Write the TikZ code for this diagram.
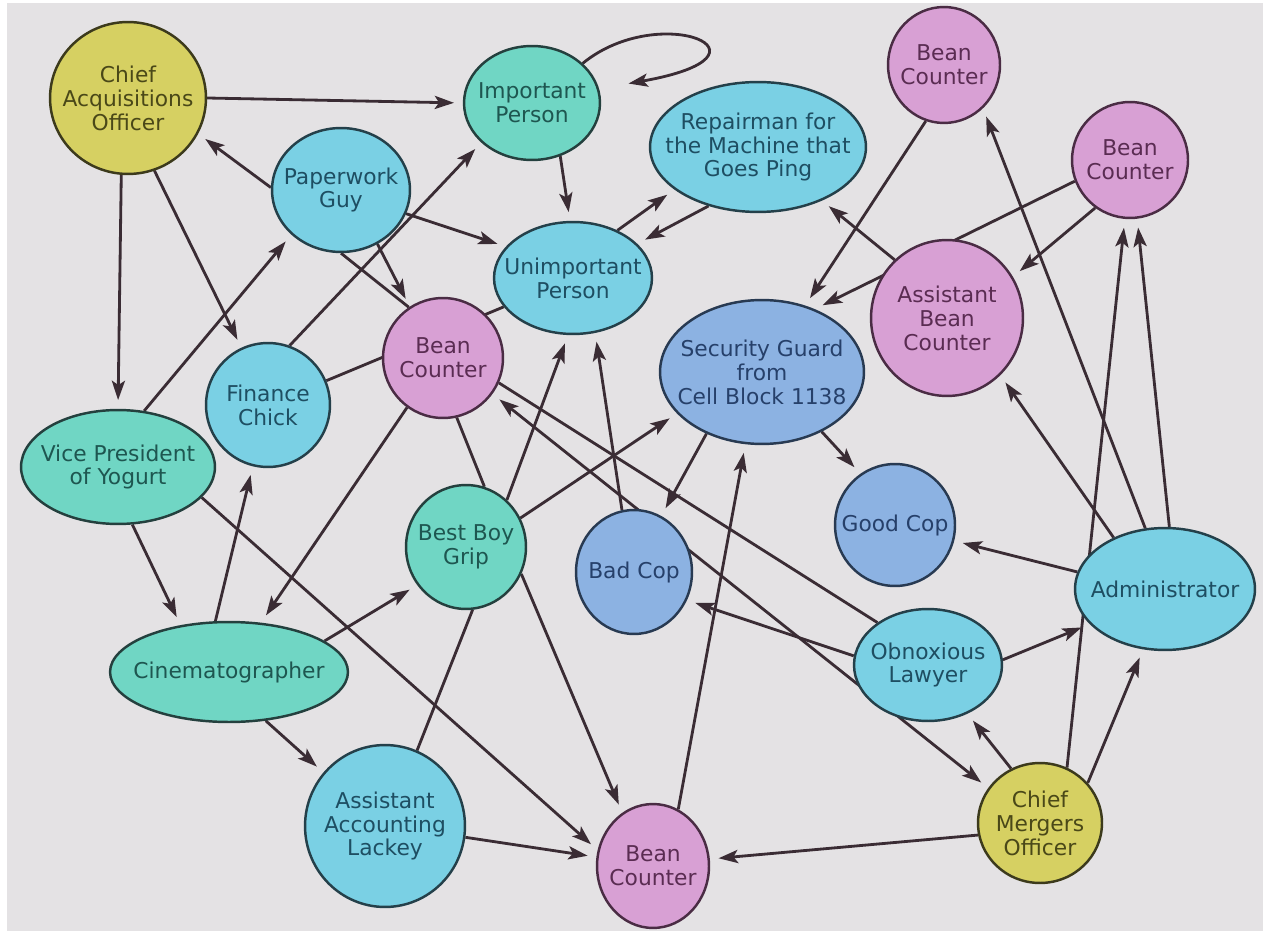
\documentclass[tikz,border=0pt]{standalone}
\usepackage{fontspec}
\setmainfont{DejaVu Sans}
\usetikzlibrary{shapes.geometric,arrows.meta}
\pgfdeclarelayer{bg}
\pgfsetlayers{bg,main}
\definecolor{cbg}{HTML}{E4E2E4}
\definecolor{ecol}{HTML}{3A2C34}
\definecolor{fyel}{HTML}{D6D062}
\definecolor{byel}{HTML}{3C3A1C}
\definecolor{tyel}{HTML}{4A4818}
\definecolor{fteal}{HTML}{70D6C4}
\definecolor{bteal}{HTML}{24403E}
\definecolor{tteal}{HTML}{1E5650}
\definecolor{fcyan}{HTML}{7AD0E4}
\definecolor{bcyan}{HTML}{24404A}
\definecolor{tcyan}{HTML}{1E4E62}
\definecolor{fblue}{HTML}{8CB2E2}
\definecolor{bblue}{HTML}{283A52}
\definecolor{tblue}{HTML}{26406A}
\definecolor{fpink}{HTML}{D8A0D4}
\definecolor{bpink}{HTML}{4A2C44}
\definecolor{tpink}{HTML}{5A2C52}
\newcommand{\nodefnt}{\fontsize{12.4}{13.6}\selectfont}
\tikzset{
  nd/.style={ellipse, draw, line width=1.4pt, inner sep=0pt},
  lb/.style={font=\nodefnt, align=center, inner sep=0pt},
  yel/.style={nd, fill=fyel, draw=byel},
  tea/.style={nd, fill=fteal, draw=bteal},
  cya/.style={nd, fill=fcyan, draw=bcyan},
  blu/.style={nd, fill=fblue, draw=bblue},
  pin/.style={nd, fill=fpink, draw=bpink},
  lyel/.style={lb, text=tyel},
  ltea/.style={lb, text=tteal},
  lcya/.style={lb, text=tcyan},
  lblu/.style={lb, text=tblue},
  lpin/.style={lb, text=tpink},
  sz/.style 2 args={minimum width=#1*0.04cm, minimum height=#2*0.04cm},
  pl/.style={draw=ecol, line width=1.6pt},
  arr/.style={pl, -{Stealth[length=11pt,width=7.5pt,inset=2.5pt]}, shorten >=5pt},
  darr/.style={pl, {Stealth[length=11pt,width=7.5pt,inset=2.5pt]}-{Stealth[length=11pt,width=7.5pt,inset=2.5pt]}, shorten >=5pt, shorten <=5pt}
}
\begin{document}
\begin{tikzpicture}[x=0.02cm, y=-0.02cm]
\useasboundingbox (0,0) rectangle (1263,935);
\begin{pgfonlayer}{bg}
\fill[white] (0,0) rectangle (1263,935);
\fill[cbg] (7,3) rectangle (1263,931);
\end{pgfonlayer}
% nodes
\node[yel, sz={78}{76}, label={[lyel]center:{Chief\\Acquisitions\\Officer}}] (CAO) at (128,98) {};
\node[tea, sz={68}{57}, label={[ltea]center:{Important\\Person}}] (IP) at (532,103) {};
\node[cya, sz={108}{65}, label={[lcya]center:{Repairman for\\the Machine that\\Goes Ping}}] (Rep) at (758,147) {};
\node[pin, sz={56}{58}, label={[lpin]center:{Bean\\Counter}}] (BC1) at (944,65) {};
\node[pin, sz={58}{58}, label={[lpin]center:{Bean\\Counter}}] (BC2) at (1130,160) {};
\node[cya, sz={69}{62}, label={[lcya]center:{Paperwork\\Guy}}] (PG) at (341,190) {};
\node[cya, sz={79}{56}, label={[lcya]center:{Unimportant\\Person}}] (UP) at (573,278) {};
\node[pin, sz={60}{60}, label={[lpin]center:{Bean\\Counter}}] (BCm) at (443,358) {};
\node[blu, sz={102}{72}, label={[lblu]center:{Security Guard\\from\\Cell Block 1138}}] (SG) at (762,372) {};
\node[pin, sz={76}{78}, label={[lpin]center:{Assistant\\Bean\\Counter}}] (ABC) at (947,318) {};
\node[cya, sz={62}{62}, label={[lcya]center:{Finance\\Chick}}] (FC) at (268,405) {};
\node[tea, sz={97}{57}, label={[ltea]center:{Vice President\\of Yogurt}}] (VP) at (118,467) {};
\node[tea, sz={60}{62}, label={[ltea]center:{Best Boy\\Grip}}] (BBG) at (466,547) {};
\node[blu, sz={58}{62}, label={[lblu]center:{Bad Cop}}] (Bad) at (634,572) {};
\node[blu, sz={60}{61}, label={[lblu]center:{Good Cop}}] (Good) at (895,525) {};
\node[cya, sz={90}{61}, label={[lcya]center:{Administrator}}] (Adm) at (1165,589) {};
\node[tea, sz={119}{50}, label={[ltea]center:{Cinematographer}}] (Cin) at (229,672) {};
\node[cya, sz={74}{56}, label={[lcya]center:{Obnoxious\\Lawyer}}] (OL) at (928,665) {};
\node[cya, sz={80}{81}, label={[lcya]center:{Assistant\\Accounting\\Lackey}}] (AAL) at (385,826) {};
\node[pin, sz={56}{62}, label={[lpin]center:{Bean\\Counter}}] (BCb) at (653,866) {};
\node[yel, sz={62}{60}, label={[lyel]center:{Chief\\Mergers\\Officer}}] (CMO) at (1040,823) {};
% edges
\begin{pgfonlayer}{bg}
\draw[arr] (CAO.0) -- (IP.180);
\draw[arr] (CAO.-95) -- (VP.90);
\draw[arr] (CAO.-70) -- (FC.115);
\draw[arr] (PG.178) -- (CAO.-27);
\draw[arr] (FC.70) -- (IP.218);
\draw[arr] (VP.65) -- (PG.222);
\draw[arr] (VP.-76) -- (Cin.136);
\draw[arr] (VP.-20) -- (BCb.164);
\draw[arr] (Cin.105) -- (FC.256);
\draw[arr] (Cin.18) -- (BBG.218);
\draw[arr] (Cin.-53) -- (AAL.139);
\draw[arr] (BCm.234) -- (Cin.57);
\draw[arr] (PG.-20) -- (UP.155);
\draw[arr] (PG.-56) -- (BCm.123);
\draw[pl] (PG.-90) -- (BCm.124);
\draw[pl] (FC) -- (UP);
\draw[arr] (IP.-62) -- (UP.93);
\draw[arr] (IP.38) .. controls (660,0) and (790,55) .. (IP.12) [shorten >=17pt];
\draw[arr] (UP.47) -- (Rep.207);
\draw[arr] (Rep.230) -- (UP.28);
\draw[arr] (BBG.49) -- (UP.265);
\draw[arr] (Bad.101) -- (UP.292);
\draw[arr] (BBG.28) -- (SG.206);
\draw[pl] (BCm.-77) -- (BBG.73);
\draw[pl] (BBG.-84) -- (AAL.67);
\draw[arr] (BBG.-26) -- (BCb.120);
\draw[arr] (AAL.-8) -- (BCb.171);
\draw[arr] (BCb.66) -- (SG.257);
\draw[arr] (SG.228) -- (Bad.64);
\draw[arr] (SG.-45) -- (Good.124);
\draw[arr] (BC1.252) -- (SG.57);
\draw[arr] (BC2.201) -- (SG.50);
\draw[arr] (ABC.132) -- (Rep.-40);
\draw[arr] (BC2.234) -- (ABC.32);
\draw[arr] (Adm.135) -- (ABC.-47);
\draw[arr] (Adm.108) -- (BC1.-48);
\draw[arr] (Adm.86) -- (BC2.-83);
\draw[arr] (CMO.64) -- (BC2.265);
\draw[arr] (Adm.169) -- (Good.-15);
\draw[arr] (OL.4) -- (Adm.205);
\draw[arr] (CMO.40) -- (Adm.250);
\draw[arr] (CMO.118) -- (OL.-51);
\draw[arr] (CMO.191) -- (BCb.7);
\draw[arr] (OL.173) -- (Bad.-28);
\draw[pl] (BCm.-24) -- (OL.140);
\draw[darr] (BCm.-36) -- (CMO.146);
\end{pgfonlayer}
\end{tikzpicture}
\end{document}
